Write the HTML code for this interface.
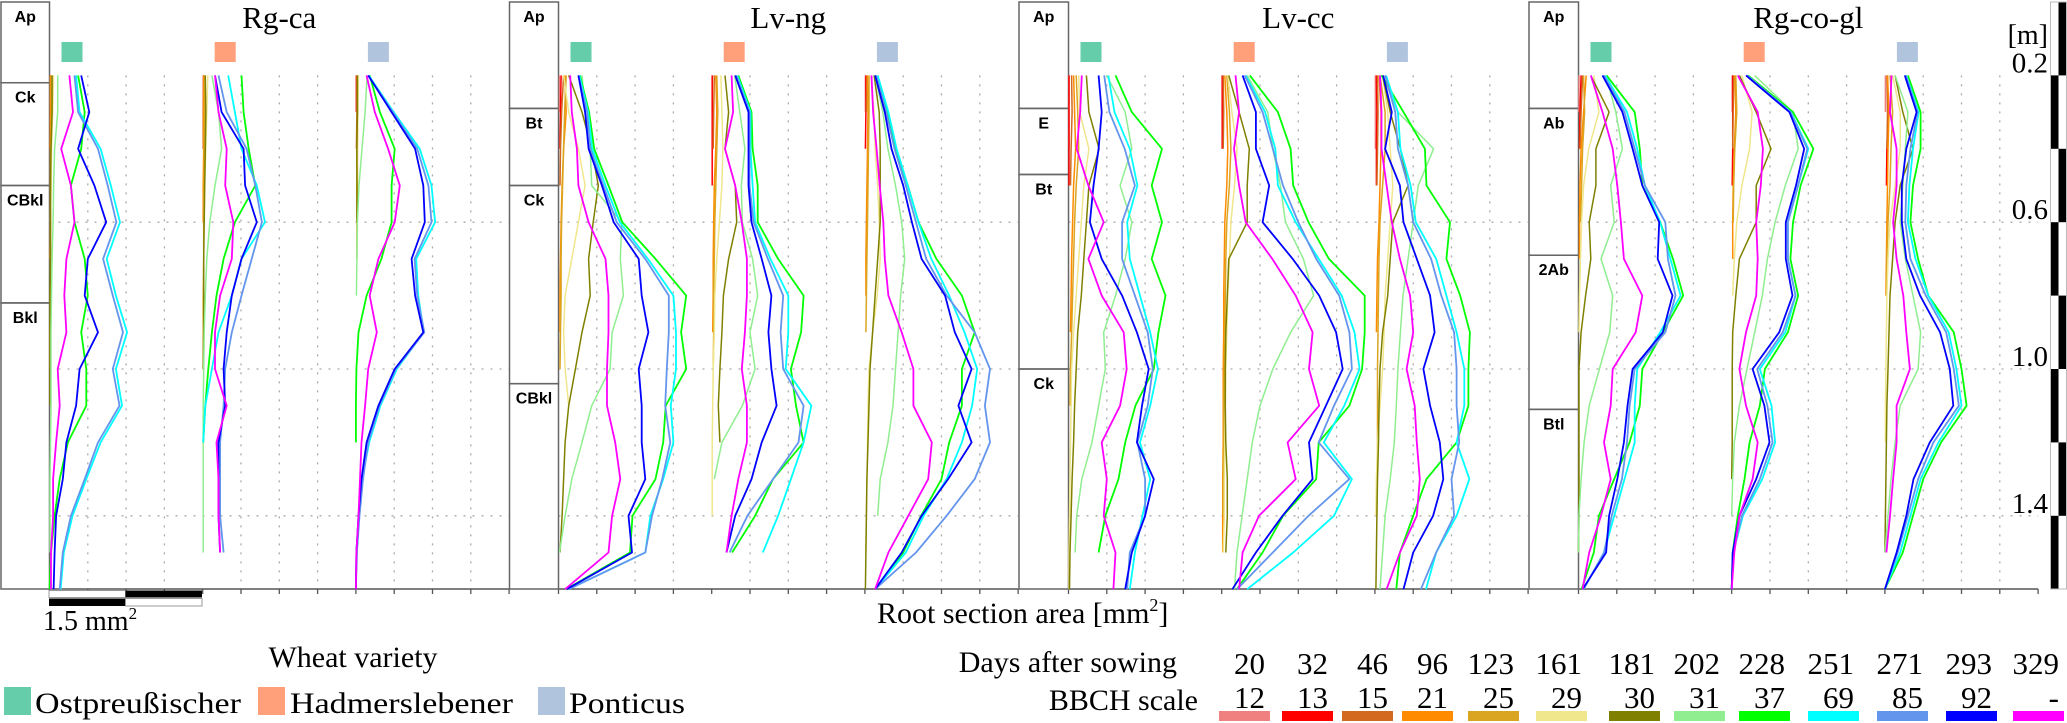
<!DOCTYPE html>
<html><head><meta charset="utf-8">
<style>
html,body{margin:0;padding:0;background:#fff;}
svg{display:block;}
.serif{font-family:"Liberation Serif",serif;}
.hz{font-family:"Liberation Sans",sans-serif;font-weight:bold;font-size:16px;}
</style></head>
<body>
<svg id="chart" width="2067" height="723" viewBox="0 0 2067 723" xmlns="http://www.w3.org/2000/svg">
  <g id="grid"></g>
  <g id="frames"></g>
  <g id="series"></g>
  <g id="titles"></g>
  <text class="serif" x="877" y="623" font-size="30">Root section area [mm<tspan font-size="18" dy="-12">2</tspan><tspan dy="12">]</tspan></text>
  <g>
    <rect x="49" y="590.5" width="76.5" height="7" fill="#fff" stroke="#999" stroke-width="1"/>
    <rect x="125.5" y="590.5" width="76.5" height="7" fill="#000"/>
    <rect x="49" y="598.5" width="76.5" height="7.5" fill="#000"/>
    <rect x="125.5" y="598.5" width="76.5" height="7.5" fill="#fff" stroke="#999" stroke-width="1"/>
    <text class="serif" x="43" y="630" font-size="28">1.5 mm<tspan font-size="17" dy="-11">2</tspan></text>
  </g>
  <g id="depthscale"></g>
  <g>
    <text class="serif" x="353" y="667" font-size="30" text-anchor="middle">Wheat variety</text>
    <rect x="4" y="687" width="27" height="28" fill="#66cdaa"/>
    <text class="serif" x="35" y="713" font-size="30" textLength="206" lengthAdjust="spacingAndGlyphs">Ostpreußischer</text>
    <rect x="258" y="687" width="27" height="28" fill="#ffa07a"/>
    <text class="serif" x="290" y="713" font-size="30" textLength="223" lengthAdjust="spacingAndGlyphs">Hadmerslebener</text>
    <rect x="538" y="687" width="27" height="28" fill="#b0c4de"/>
    <text class="serif" x="569" y="713" font-size="30" textLength="116" lengthAdjust="spacingAndGlyphs">Ponticus</text>
  </g>
  <g id="datelegend">
    <text class="serif" x="1177" y="672" font-size="30" text-anchor="end">Days after sowing</text>
    <text class="serif" x="1198" y="710" font-size="30" text-anchor="end">BBCH scale</text>
  </g>
</svg>
<script>
// ---- data ----
const days = ["20","32","46","96","123","161","181","202","228","251","271","293","329"];
const bbch = ["12","13","15","21","25","29","30","31","37","69","85","92","-"];
const seriesColors = ["#f08080","#ff0000","#d2691e","#ff8c00","#daa520","#f0e68c","#808000","#90ee90","#00ff00","#00ffff","#6495ed","#0000ff","#ff00ff"];
const panelNames = ["Rg-ca","Lv-ng","Lv-cc","Rg-co-gl"];
const varietyNames = ["ostpreussischer","hadmerslebener","ponticus"];
const varietyColors = ["#66cdaa","#ffa07a","#b0c4de"];
const depthTicks = ["0.2","0.6","1.0","1.4"];
const depthTickValues = [0.2,0.6,1.0,1.4];
const horizonNames = [["Ap","Ck","CBkl","Bkl"],["Ap","Bt","Ck","CBkl"],["Ap","E","Bt","Ck"],["Ap","Ab","2Ab","Btl"]];
const horizonTops = [[0,0.22,0.50,0.82],[0,0.29,0.50,1.04],[0,0.29,0.47,1.00],[0,0.29,0.69,1.11]];
// values in mm², one value per 0.1 m depth step starting at 0.2 m
const rgcaOst = [
[.02,.02],[.03,.02,.02],[.02,.02,.01],[.02,.02,.02,.02,.02,.01],[.04,.04,.03,.03,.02,.02,.02,.01,.01],
[.08,.06,.04,.03,.02],[.05,.05,.03,.02,.02,.02,.01,.01,.01,.01],
[.16,.16,.1,.08,.07,.05,.04,.03,.03,.03,.02,.01,.01,.01],
[.56,.69,.62,.42,.49,.69,.75,.62,.72,.72,.36,.2,.1,.03,0],
[.52,.59,1.0,1.2,1.38,1.12,1.3,1.52,1.3,1.42,1.0,.72,.45,.28,.22],
[.49,.56,.95,1.14,1.31,1.05,1.24,1.44,1.24,1.37,.95,.69,.42,.26,.2],
[.62,.78,.56,.88,1.11,.75,.69,.95,.59,.52,.33,.26,.13,.1,.08],
[.39,.46,.23,.42,.49,.33,.29,.33,.16,.2,.13,.07,.07,.03,.03]];
const rgcaHad = [
[.01,.01],[.02,.02,.01],[.02,.01,.01],[.02,.02,.02,.01,.01],[.04,.04,.03,.03,.02,.02,.01,.01,.01],
[.1,.08,.06,.04,.03],[.05,.06,.05,.04,.03,.02,.02,.02,.01],
[.18,.31,.37,.24,.14,.08,.05,.03,.02,.01,.01,.01,.01,.01],
[.76,.8,.9,1.03,.63,.41,.27,.18,.11,.05,.01],
[.5,.63,.76,1.06,1.22,.76,.57,.31,.18,.05,.01],
[.31,.47,.86,1.03,1.16,.96,.76,.57,.44,.41,.34,.34,.34,.41],
[.24,.37,.8,.83,1.06,.76,.57,.47,.41,.44,.31,.31,.31,.34],
[.24,.31,.47,.44,.6,.57,.34,.24,.24,.47,.27,.31,.31,.34]];
const rgcaPon = [
[.01,.01],[.01,.01],[.02,.02,.01],[.03,.03,.02,.02,.02],[.04,.04,.03,.03,.02,.02],
[.05,.04,.03,.02],[.03,.03,.02,.02,.02],[.22,.18,.12,.06,.03,.02,.01],
[.27,.47,.76,.7,.7,.5,.21,.05,.01,0,0],
[.25,.74,1.25,1.48,1.55,1.18,1.22,1.33,.8,.48,.26,.12,.05,.01,0],
[.24,.72,1.2,1.42,1.48,1.15,1.2,1.34,.78,.46,.24,.14,.07,.02,0],
[.24,.7,1.16,1.32,1.35,1.09,1.16,1.32,.76,.44,.21,.11,.05,.01,0],
[.21,.37,.63,.86,.76,.44,.27,.41,.24,.18,.11,.08,.05,.01,0]];
const lvngOst = [
[.02,.02],[.05,.04,.03],[.1,.06,.04,.03],[.12,.15,.1,.07,.05,.04,.03,.03],[.15,.12,.1,.08,.06,.05,.05,.04,.03],
[.1,.2,.39,.52,.39,.26,.13,.1,.13,.2],
[.2,.46,.65,.78,.68,.59,.62,.46,.33,.2,.13,.1,.07,.03],
[.46,.52,.62,.65,1.24,1.21,1.27,1.05,1.01,.65,.46,.26,.13,.02],
[.42,.6,.7,.98,1.25,1.9,2.5,2.4,2.5,2.1,2.05,1.9,1.45,1.4,.15],
[.41,.58,.66,.92,1.2,1.75,2.25,2.3,2.3,2.2,2.25,2.05,1.8,1.7,.2],
[.39,.56,.62,.88,1.14,1.7,2.16,2.16,2.12,2.09,2.19,2.03,1.83,1.7,.2],
[.39,.52,.59,.85,1.08,1.57,1.63,1.76,1.57,1.63,1.63,1.7,1.37,1.44,.16],
[.23,.26,.36,.39,.59,.92,.98,.98,.95,.95,1.11,1.21,1.05,.98,.13]];
const lvngHad = [
[.01,.01],[.01,.01,.01,.01],[.05,.04,.03],[.08,.1,.08,.05,.04,.03,.03,.02],[.1,.12,.1,.08,.06,.05,.04,.04,.03],
[.18,.2,.22,.2,.15,.1,.06,.05,.03,.02,.01,.01,.01],
[.26,.33,.26,.46,.49,.33,.23,.2,.16,.13,.16],
[.45,.55,.65,.58,.6,.8,.9,.75,.85,.6,.2,.05],
[.52,.78,.8,.9,.9,1.3,1.8,1.75,1.55,1.65,1.8,1.2,.85,.4],
[.5,.76,.76,.8,.85,1.15,1.5,1.5,1.45,1.95,1.8,1.55,1.3,1.0],
[.48,.74,.74,.74,.82,1.1,1.4,1.35,1.4,1.8,1.7,1.2,.7,.35],
[.46,.72,.72,.72,.78,.98,1.17,1.11,1.17,1.27,.98,.78,.46,.29],
[.39,.42,.26,.46,.59,.69,.69,.65,.59,.69,.69,.52,.39,.29]];
const lvngPon = [
[.01,.01],[.02,.02,.01],[.04,.03],[.05,.06,.05,.04,.03,.02,.02],[.08,.08,.07,.06,.05,.04,.03,.02],
[.12,.18,.2,.25,.28,.3,.24,.15,.08,.06,.05,.04,.03,.02],
[.18,.28,.3,.3,.3,.25,.2,.15,.1,.08,.06,.04,.03,.02,.01],
[.2,.35,.45,.6,.72,.78,.7,.65,.6,.55,.45,.3,.25],
[.22,.44,.6,.84,1.05,1.4,1.9,2.15,1.9,1.9,1.65,1.5,1.1,.75,.2],
[.25,.46,.62,.84,1.05,1.3,1.65,1.95,2.2,2.1,1.9,1.6,1.15,.8,.2],
[.22,.42,.58,.8,1.0,1.2,1.6,2.15,2.45,2.35,2.45,2.15,1.6,1.0,.2],
[.2,.39,.52,.75,.92,1.11,1.57,1.76,2.09,1.83,2.09,1.63,1.11,.72,.2],
[.13,.16,.23,.29,.36,.39,.46,.72,.95,.95,1.31,1.24,.85,.46,.2]];
const lvccOst = [
[.01,.01,.01],[.01,.01,.01,.01],[.06,.07,.05,.04],[.1,.12,.14,.1,.08,.06,.05,.04],[.15,.18,.2,.15,.12,.1,.08,.06,.04,.03],
[.2,.22,.4,.3,.25,.2,.15,.1,.06,.05,.04,.03,.02,.01,.01],
[.35,.4,.6,.4,.35,.3,.25,.18,.15,.12,.1,.07,.05,.03,.02],
[.75,1.11,1.24,1.01,1.24,1.11,.92,.69,.72,.59,.46,.26,.16,.13],
[.92,1.24,1.83,1.63,1.83,1.63,1.9,1.76,1.67,1.31,1.11,.98,.72,.59],
[.78,.9,1.2,1.35,1.15,1.2,1.4,1.6,1.75,1.6,1.4,1.6,1.45,1.3,1.2],
[.7,.8,1.1,1.3,1.05,1.05,1.3,1.55,1.65,1.55,1.35,1.5,1.5,1.2,1.15],
[.59,.65,.59,.49,.42,.65,1.05,1.34,1.57,1.44,1.34,1.67,1.5,1.24,1.11],
[.26,.23,.16,.39,.69,.39,.65,1.08,1.14,1.01,.65,.75,.69,.92,.88]];
const lvccHad = [
[.01,.01],[.01,.01,.01],[.03,.04,.03],[.06,.1,.12,.1,.06,.05,.04,.04,.03,.03,.03,.02,.02,.02],
[.1,.15,.18,.15,.1,.08,.07,.06,.05,.04,.04,.03,.03],
[.12,.2,.3,.25,.18,.15,.12,.1,.08,.07,.06,.05,.05,.03],
[.14,.34,.54,.5,.5,.14,.11,.08,.07,.07,.08,.11,.11,.08],
[.5,.9,1.0,1.15,1.25,1.6,1.8,1.35,1.0,.75,.6,.5,.4,.3,.25],
[.55,1.1,1.35,1.4,1.7,2.1,2.8,2.8,2.75,2.5,1.9,1.85,1.2,.8,.3],
[.47,.85,1.05,1.1,1.45,1.9,2.35,2.6,2.7,2.4,2.0,2.55,2.2,1.4,.5],
[.45,.8,1.0,1.2,1.5,1.85,2.3,2.5,2.55,2.2,1.9,2.5,1.7,1.0,.3],
[.41,.67,.67,.93,.8,1.39,1.91,2.24,2.37,2.04,1.71,1.78,1.19,.67,.21],
[.27,.34,.24,.34,.47,.99,1.45,1.78,1.71,1.91,1.29,1.45,.73,.41,.34]];
const lvccPon = [
[.01,.01,.01],[.03,.04,.03,.03],[.05,.06,.05,.04],[.08,.12,.12,.1,.08,.05,.04,.03],
[.1,.2,.2,.15,.1,.08,.07,.06,.05,.05,.05,.04,.04],
[.15,.25,.3,.35,.3,.25,.2,.18,.15,.1,.05,.03,.02],
[.15,.3,.5,.65,.35,.3,.25,.15,.1,.08,.07,.05,.04,.03,.02],
[.15,.45,1.15,.85,.75,.65,.55,.5,.45,.42,.38,.3,.2,.15,.1],
[.13,.56,.98,1.01,1.47,1.4,1.67,1.86,1.83,1.83,1.6,1.01,.75,.49,.42],
[.22,.45,.5,.7,.8,1.2,1.4,1.6,1.75,1.75,1.6,1.85,1.6,1.2,1.0],
[.2,.4,.45,.65,.75,1.1,1.3,1.55,1.6,1.6,1.65,1.5,1.55,1.2,.9],
[.16,.33,.2,.49,.56,.82,1.08,1.17,.95,1.08,1.27,1.34,1.14,.75,.56],
[.1,.13,.13,.23,.33,.49,.69,.75,.62,.78,.82,.88,.82,.49,.23]];
const rgcoOst = [
[.01,.01],[.05,.03,.02],[.08,.05,.03],[.15,.1,.05,.03,.02,.02],[.1,.12,.08,.06,.04],
[.3,.4,.2,.1,.06,.04,.02,.01],
[.24,.6,.34,.34,.21,.24,.14,.05,.01,.01,.01,.01,.01,0],
[.54,.73,.86,.63,.7,.44,.67,.61,.41,.21,.11,.05,.01,0],
[.55,1.1,1.2,1.25,1.6,1.85,2.05,1.65,1.25,1.2,1.0,.7,.4,.3,.06],
[.52,.95,1.15,1.3,1.6,1.8,2.0,1.6,1.15,1.1,1.1,.9,.7,.5,.1],
[.5,.9,1.1,1.3,1.7,1.75,1.9,1.7,1.1,1.0,.95,.85,.65,.5,.1],
[.47,.86,1.06,1.25,1.58,1.55,1.84,1.65,1.06,.96,.89,.76,.6,.54,.08],
[.24,.47,.67,.76,.83,.89,1.25,1.12,.67,.63,.5,.63,.44,.21,.08]];
const rgcoHad = [
[.01,.01],[.02,.02,.02,.01],[.04,.03,.02],[.06,.08,.05,.03,.02,.02],[.08,.1,.06,.04,.03],
[.2,.4,.35,.2,.1,.05,.02],
[.15,.48,.77,.48,.48,.15,.08,.02,.01,.01,.01,0],
[.45,1.2,1.3,1.05,.85,.7,.6,.45,.3,.15,.05,.02,0],
[.32,1.2,1.6,1.35,1.2,1.15,1.3,1.1,.65,.55,.35,.25,.12,.02,0],
[.3,1.16,1.5,1.3,1.1,1.1,1.25,1.05,.55,.78,.85,.6,.22,.03,0],
[.3,1.15,1.48,1.3,1.1,1.1,1.25,1.0,.5,.7,.8,.55,.2,.03,0],
[.28,1.13,1.42,1.26,1.06,1.06,1.19,.93,.41,.64,.74,.48,.15,.02,0],
[.12,.51,.61,.57,.48,.51,.48,.28,.15,.28,.51,.41,.15,.05,0]];
const rgcoPon = [
[.01,.01],[.05,.06,.04,.03],[.04,.05,.04],[.05,.08,.06,.05,.04,.03,.02],[.1,.15,.12,.1,.06,.04,.03],
[.15,.3,.3,.2,.1,.06,.04,.03,.02,.01,.01],
[.2,.35,.55,.3,.2,.15,.1,.08,.06,.04,.03,.02,.01,0],
[.2,.45,.4,.35,.3,.4,.55,.7,.65,.3,.2,.12,.06,0],
[.45,.7,.7,.55,.5,.65,.85,1.35,1.5,1.6,1.1,.75,.55,.35,0],
[.42,.66,.55,.48,.45,.6,.85,1.25,1.4,1.5,1.05,.7,.5,.3,0],
[.41,.64,.5,.42,.4,.5,.8,1.2,1.35,1.45,.95,.65,.45,.25,0],
[.39,.62,.42,.33,.33,.42,.69,1.08,1.27,1.34,.88,.56,.42,.23,0],
[.13,.1,.23,.23,.16,.23,.36,.42,.49,.23,.23,.16,.1,.03]];
const panelData = [[rgcaOst,rgcaHad,rgcaPon],[lvngOst,lvngHad,lvngPon],[lvccOst,lvccHad,lvccPon],[rgcoOst,rgcoHad,rgcoPon]];

// ---- layout & axis functions ----
const NS = "http://www.w3.org/2000/svg";
const plotLeft = [49.5, 558.5, 1068.5, 1578.5];
const horizonLeft = [1, 509.5, 1019, 1529];
const tickW = 38.3, colW = 4 * tickW, pxPerMm2 = tickW / 0.75;
const axisY = 589, depthTop = 0.2, depthStep = 0.1;
function yOf(d) { return 2 + 367 * d; }
function xOf(p, c, v) { return plotLeft[p] + c * colW + v * pxPerMm2; }
function mk(tag, attrs, parent) {
  const e = document.createElementNS(NS, tag);
  for (const k in attrs) e.setAttribute(k, attrs[k]);
  parent.appendChild(e);
  return e;
}
const grid = document.getElementById('grid');
const frames = document.getElementById('frames');
const series = document.getElementById('series');
const titles = document.getElementById('titles');

for (let p = 0; p < 4; p++) {
  // horizontal dotted lines
  for (let i = 1; i < depthTickValues.length; i++) {
    const y = yOf(depthTickValues[i]);
    const l = mk('line', {x1: plotLeft[p], x2: plotLeft[p] + 12 * tickW, y1: y, y2: y, stroke: '#aaa', 'stroke-width': 1.3, 'stroke-dasharray': '2 7'}, grid);
    
    
  }
  for (let k = 0; k <= 12; k++) {
    const x = plotLeft[p] + k * tickW;
    if (k % 4 !== 0) {
      const v = mk('line', {x1: x, x2: x, y1: yOf(depthTop), y2: axisY, stroke: '#aaa', 'stroke-width': 1.3, 'stroke-dasharray': '2 7'}, grid);
      
      
    }
    const t = mk('line', {x1: x, x2: x, y1: axisY, y2: axisY + 5, stroke: '#555', 'stroke-width': 1.3}, grid);
    
    
  }
  const ax = mk('line', {x1: plotLeft[p], x2: plotLeft[p] + 12 * tickW, y1: axisY, y2: axisY, stroke: '#555', 'stroke-width': 1.5}, grid);
  
  

  // horizon column
  const tops = horizonTops[p];
  for (let h = 0; h < tops.length; h++) {
    const y0 = yOf(tops[h]), y1 = h + 1 < tops.length ? yOf(tops[h + 1]) : axisY;
    const r = mk('rect', {x: horizonLeft[p], y: y0, width: plotLeft[p] - horizonLeft[p], height: y1 - y0, fill: 'none', stroke: '#666', 'stroke-width': 1.5}, frames);
    
    
    const t = mk('text', {x: (horizonLeft[p] + plotLeft[p]) / 2, y: y0 + 20, 'text-anchor': 'middle', class: 'hz'}, frames);
    t.textContent = horizonNames[p][h];
    
    
  }

  // title
  const tt = mk('text', {x: plotLeft[p] + 6 * tickW, y: 28, 'text-anchor': 'middle', class: 'serif', 'font-size': 31}, titles);
  tt.textContent = panelNames[p];
  
  

  for (let c = 0; c < 3; c++) {
    const sq = mk('rect', {x: plotLeft[p] + c * colW + 12, y: 42, width: 21, height: 20, fill: varietyColors[c]}, titles);
    
    
    const cols = panelData[p][c];
    for (let s = 0; s < cols.length; s++) {
      const vals = cols[s];
      const pts = vals.map((v, i) => xOf(p, c, v).toFixed(1) + ',' + yOf(depthTop + i * depthStep).toFixed(1)).join(' ');
      const pl = mk('polyline', {points: pts, fill: 'none', stroke: seriesColors[s], 'stroke-width': s >= 8 ? 1.8 : 1.5, 'stroke-linejoin': 'round'}, series);
      
      
    }
  }
}

// depth scale on right
const ds = document.getElementById('depthscale');
for (let i = 0; i < 8; i++) {
  const y0 = yOf(i * 0.2), y1 = yOf((i + 1) * 0.2);
  const b = mk('rect', {x: i % 2 === 0 ? 2058.5 : 2051, y: y0, width: 7.5, height: y1 - y0, fill: '#000'}, ds);
  
  
}
const bo = mk('rect', {x: 2050.5, y: yOf(0), width: 16, height: axisY - yOf(0), fill: 'none', stroke: '#bbb', 'stroke-width': 1}, ds);


const unit = mk('text', {x: 2048, y: 44, 'text-anchor': 'end', class: 'serif', 'font-size': 28}, ds);
unit.textContent = '[m]';


for (let i = 0; i < depthTicks.length; i++) {
  const t = mk('text', {x: 2048, y: yOf(depthTickValues[i]) - 3, 'text-anchor': 'end', class: 'serif', 'font-size': 29}, ds);
  t.textContent = depthTicks[i];
  
  
}

// date legend
const dl = document.getElementById('datelegend');
const swX = [1219,1282,1342,1402,1468,1536,1609,1674,1739,1808,1877,1946,2013];
for (let i = 0; i < days.length; i++) {
  const sw = mk('rect', {x: swX[i], y: 711, width: 51, height: 10, fill: seriesColors[i]}, dl);
  
  
  const t1 = mk('text', {x: swX[i] + 46, y: 674, 'text-anchor': 'end', class: 'serif', 'font-size': 31}, dl);
  t1.textContent = days[i];
  
  
  const t2 = mk('text', {x: swX[i] + 46, y: 708, 'text-anchor': 'end', class: 'serif', 'font-size': 31}, dl);
  t2.textContent = bbch[i];
  
  
}
</script>
</body></html>
